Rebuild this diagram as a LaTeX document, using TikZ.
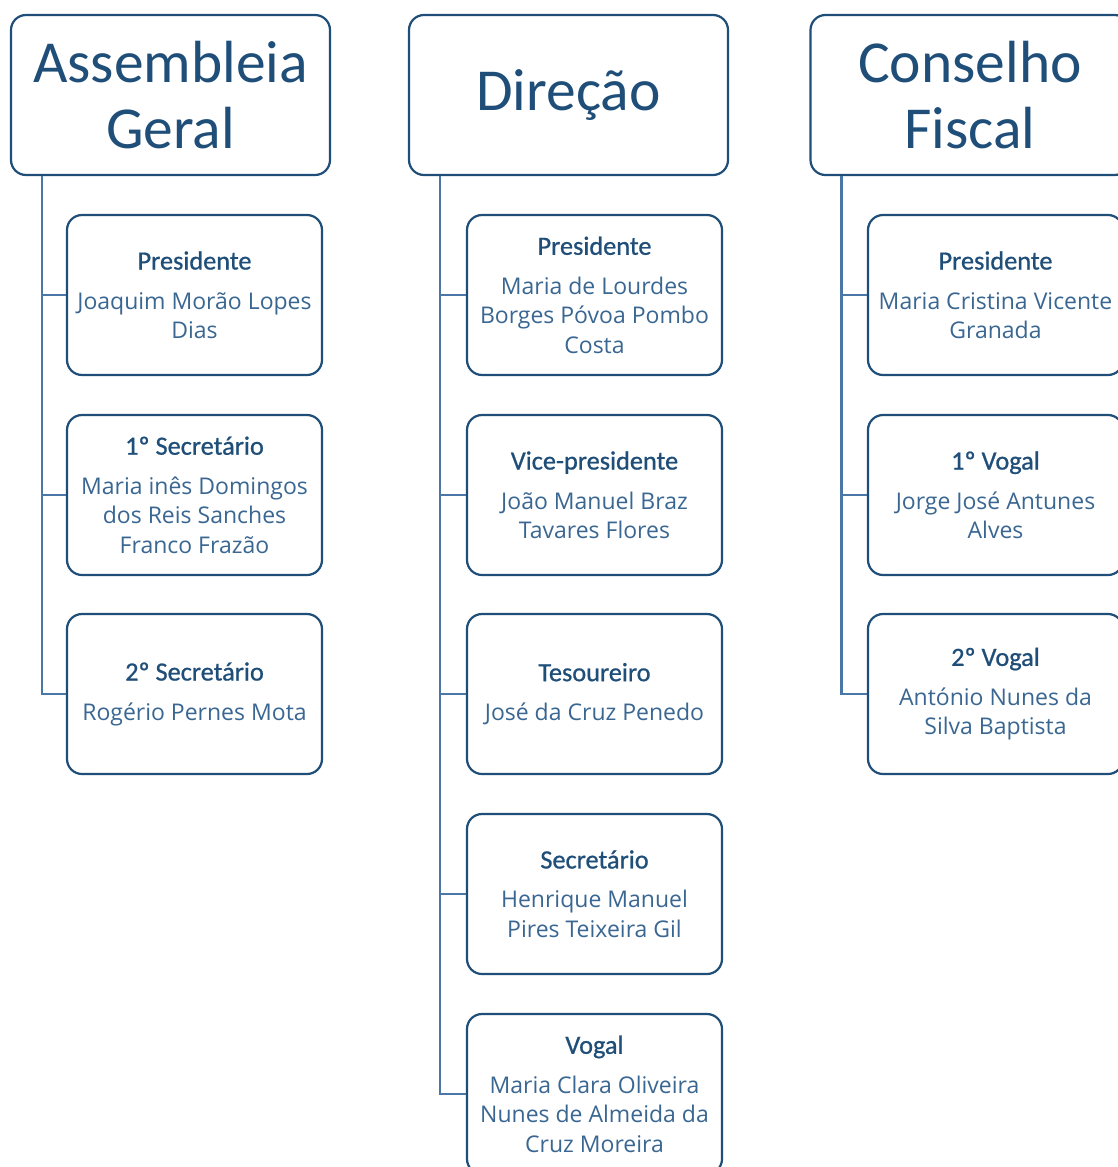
\documentclass[tikz,border=0pt]{standalone}
\usepackage{fontspec}
\setmainfont{Carlito}
\newfontfamily\namefam{Open Sans}
\newfontfamily\rolefam[FakeBold=0.8]{Carlito}
\definecolor{boxc}{HTML}{1F4E79}
\definecolor{linec}{HTML}{4A76A8}
\definecolor{namec}{HTML}{3A6792}
\newcommand{\rl}[1]{{\rolefam\fontsize{26.3}{30}\selectfont #1}}
\tikzset{
  head/.style={draw=boxc, line width=2.2pt, rounded corners=15pt, fill=white,
    minimum width=319pt, minimum height=160pt, inner sep=0pt, align=center,
    text=boxc, font=\fontsize{59.5}{66}\selectfont},
  member/.style={draw=boxc, line width=2.2pt, rounded corners=15pt, fill=white,
    minimum width=255pt, minimum height=160pt, inner sep=0pt, align=center,
    text=boxc, font=\namefam\fontsize{23}{29.5}\selectfont},
  conn/.style={draw=linec, line width=2.4pt}
}
\begin{document}
\begin{tikzpicture}[x=1pt,y=-1pt]
\useasboundingbox (0,0) rectangle (1118,1167);
\clip (0,0) rectangle (1118,1167);
% headers
\node[head] (ag) at (170.5,95) {Assembleia\\Geral};
\node[head] (di) at (568.5,95) {Direção};
\node[head] (cf) at (970,95) {Conselho\\Fiscal};
% AG members
\node[member] (ag1) at (194.5,295) {\rl{Presidente}\\[10pt]\color{namec}Joaquim Morão Lopes\\\color{namec}Dias};
\node[member] (ag2) at (194.5,495) {\rl{1º Secretário}\\[10pt]\color{namec}Maria inês Domingos\\\color{namec}dos Reis Sanches\\\color{namec}Franco Frazão};
\node[member] (ag3) at (194.5,694) {\rl{2º Secretário}\\[10pt]\color{namec}Rogério Pernes Mota};
% Direção members
\node[member] (di1) at (594.5,295) {\rl{Presidente}\\[10pt]\color{namec}Maria de Lourdes\\\color{namec}Borges Póvoa Pombo\\\color{namec}Costa};
\node[member] (di2) at (594.5,495) {\rl{Vice-presidente}\\[10pt]\color{namec}João Manuel Braz\\\color{namec}Tavares Flores};
\node[member] (di3) at (594.5,694) {\rl{Tesoureiro}\\[10pt]\color{namec}José da Cruz Penedo};
\node[member] (di4) at (594.5,894) {\rl{Secretário}\\[10pt]\color{namec}Henrique Manuel\\\color{namec}Pires Teixeira Gil};
\node[member] (di5) at (594.5,1094) {\rl{Vogal}\\[10pt]\color{namec}Maria Clara Oliveira\\\color{namec}Nunes de Almeida da\\\color{namec}Cruz Moreira};
% CF members
\node[member] (cf1) at (995.5,295) {\rl{Presidente}\\[10pt]\color{namec}Maria Cristina Vicente\\\color{namec}Granada};
\node[member] (cf2) at (995.5,495) {\rl{1º Vogal}\\[10pt]\color{namec}Jorge José Antunes\\\color{namec}Alves};
\node[member] (cf3) at (995.5,694) {\rl{2º Vogal}\\[10pt]\color{namec}António Nunes da\\\color{namec}Silva Baptista};
% connectors
\coordinate (agx) at ([xshift=32pt]ag.south west);
\coordinate (dix) at ([xshift=32pt]di.south west);
\coordinate (cfx) at ([xshift=32pt]cf.south west);
\foreach \m in {ag1,ag2,ag3}{\draw[conn] (agx) |- (\m.west);}
\foreach \m in {di1,di2,di3,di4,di5}{\draw[conn] (dix) |- (\m.west);}
\foreach \m in {cf1,cf2,cf3}{\draw[conn] (cfx) |- (\m.west);}
\end{tikzpicture}
\end{document}
